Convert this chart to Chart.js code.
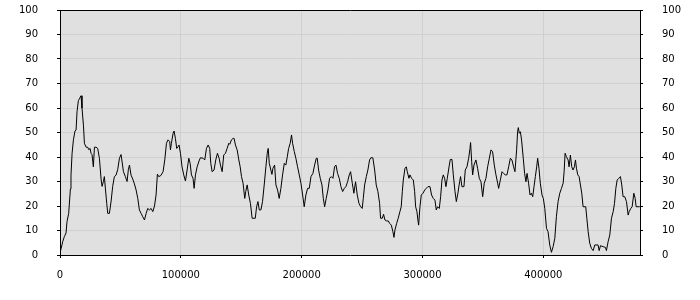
<!DOCTYPE html>
<html>
<head>
<meta charset="utf-8">
<script src="https://cdn.jsdelivr.net/npm/chart.js"></script>
<style>
  body { margin: 0; background: #fff; }
  #wrap { width: 700px; height: 300px; }
</style>
</head>
<body>
<div id="wrap"><canvas id="chart" width="700" height="300"></canvas></div>
<script>
// sample positions, in thousands
const xK = [
  0, 1, 2.2, 3.6, 5, 5.8, 7.2, 8.6, 9.1, 10, 11.1, 12.4, 13.3, 14.1, 15.2, 16.3, 17.4, 18.2, 19.4, 20.2,
  21.6, 22.9, 23.8, 24.9, 25.7, 26.5, 27.6, 28.5, 29.8, 31.2, 32.6, 34, 34.8, 35.9, 36.7, 37.6, 38.7, 39.5, 40.9, 42.3,
  43.6, 45, 46.4, 47.8, 49.2, 50.5, 51.4, 52.5, 54.1, 55.5, 56.6, 57.5, 58.8, 60.2, 61.6, 63, 64.4, 65.7, 67.1, 68.5,
  69.9, 71.3, 72.6, 74, 75.4, 76.8, 78.2, 79.5,
  80.6, 81.7, 83.4, 85.3, 86.7, 88.1, 89.4, 90.8, 91.4, 92.2, 93.6, 94.4, 95.5, 96.6, 97.7, 98.5, 99.7, 101, 102.4, 103.8,
  105.2, 106.6, 107.7, 108.8, 110.1, 111, 112.1, 113.5, 115.1, 116.2, 118.4, 119.8, 121.2, 122.6, 123.9, 124.8, 125.9, 127.5, 128.9, 130.3,
  131.7, 132.8, 134.2, 135.5, 136.9, 138.3, 139.7, 140.5, 141.9, 143.3, 144.1, 145.2, 146.6, 148, 149.1, 150.2, 151.5, 152.9, 153.7, 154.9,
  156.2, 157.6, 159,
  161.6, 162.7, 163.8, 164.9, 166.3, 167.6, 169, 170.4, 171.5, 172.3, 173.2, 174.5, 175.4, 176.2, 177.6, 178.7, 180.1, 181.4, 182.8, 184.2,
  185.6, 186.9, 188.1, 189.2, 190.5, 191.6, 192.5, 193.9, 195.2, 196.6, 198, 199.4, 200.8, 202.1, 203.5, 204.9, 206.3, 207.7, 209.3, 210.7,
  212.1, 212.9, 214, 215.4, 216.8, 217.9, 219, 220.3, 221.7, 223.1, 224.5, 225.9, 227.2, 228.4, 229.7, 231.1, 232.5, 233.9, 235.3, 236.6,
  238, 239.4, 240.5,
  241.9, 243.2, 244.6, 246, 247.4, 248.8, 250.1, 251, 252.1, 253.5, 254.8, 256.2, 257.3, 258.9, 260.4, 261.7, 263.1, 264.5, 265.3, 266.7,
  267.8, 268.9, 270.3, 271.7, 272.8, 274.2, 275.5, 276.4, 277.2, 278.6, 279.9, 281.3, 282.4, 283.3, 284.1, 285.5, 286.6, 287.4, 288.8, 289.6,
  291, 292.4, 293.5, 294.3, 295.4, 296.2, 296.8, 297.9, 299, 300.4, 301.8, 303.1, 304.5, 306.2, 307.5, 308.9, 310.3, 311.4, 312.5, 313.9,
  315, 316.1, 317.2, 318.3, 319.4, 320.5,
  322.2, 323, 324.4, 325.5, 326.9, 328, 329.3, 330.7, 331.5, 332.6, 334.3, 335.4, 336.8, 338.2, 339.3, 339.8, 340.7, 341.5, 342.6, 344.2,
  345.6, 347, 348.4, 349.8, 351.1, 352.5, 353.9, 355.3, 356.7, 358, 359.4, 360.8, 362.2, 363, 364.4, 365.8, 367.1, 368.5, 369.9, 371.3,
  372.7, 374, 375.4, 376.5, 377.9, 378.7, 379.3, 380.1, 381, 382, 383.4, 384.5, 385.6, 386.5, 387.8, 389, 390.1, 391.2, 392.3, 393.4,
  394.5, 395.3, 396.4, 397.5, 398.9, 400,
  401.2, 402.6, 403.9, 405.3, 406.7, 408.1, 409.5, 410.8, 412.2, 413.6, 415, 416.4, 417.2, 418, 419.1, 420.5, 421.3, 422.4, 423.5, 424.6,
  425.7, 426.6, 427.4, 428.5, 429.6, 430.7, 431.8, 432.9, 435.1, 436, 437.1, 438.4, 439.8, 441.2, 442.6, 445.3, 446.2, 447.3, 449.5, 451.4,
  452.2, 453.6, 455, 456.4, 457.8, 458.9, 460, 461.1, 462.5, 463.8, 464.9, 466, 467.4, 468.8, 470.2, 471, 472.4, 473.5, 474.9, 476,
  476.8, 479.8
];

const values = [
  1, 2.7, 5.4, 7.5, 9, 13.6, 17, 27, 32.6, 41.5, 47, 50.6, 51, 58.5, 63, 64, 65, 60, 53, 45.6,
  44, 44, 43, 43.5, 41.5, 41, 36, 44, 44, 43.5, 39.5, 31, 28, 30, 32, 27, 21, 17, 17, 22,
  28, 32, 32.6, 35, 39.5, 41, 38, 34, 32, 30, 35, 36.7, 32.6, 31, 29, 26.5, 23, 18.4, 17, 15.6,
  14.3, 17, 19, 18.4, 19, 17.7, 20, 24.5,
  33, 32, 32.4, 34, 38.8, 45.6, 47, 46.3, 42.9, 45.6, 49.7, 50.6, 47.6, 43.5, 44.2, 44.9, 41.5, 36, 32.7, 30.2,
  34.7, 39.5, 37.4, 32.7, 31.3, 27.2, 32.7, 36, 38.4, 39.7, 39.5, 38.8, 43.5, 44.9, 43.5, 37.4, 34, 34.7, 38.8, 41.5,
  39.5, 36.7, 34, 40.8, 41.5, 43.5, 45.6, 45.2, 47, 47.6, 47.6, 44.9, 42.9, 38.8, 36, 32, 29.3, 23.1, 25.9, 28.6,
  24.5, 21.1, 15,
  15, 19.7, 21.8, 18.4, 18.4, 21.8, 28.6, 36, 41.5, 43.5, 37.4, 34.7, 32.9, 35.4, 36.7, 28.6, 26.5, 23.1, 27.2, 32.7,
  37.4, 36.7, 40.1, 43.5, 45.6, 49, 45.6, 42.2, 39.5, 36, 32.7, 29.3, 24.5, 19.7, 24.5, 27.2, 27.2, 32, 33.3, 36.7,
  39.5, 39.5, 34.7, 31.3, 28.6, 23.1, 19.7, 23.1, 26.5, 31.3, 32, 31.3, 36, 36.7, 33.3, 31.3, 27.9, 25.9, 27.2, 27.9,
  29.9, 32.7, 34,
  29.3, 25.2, 29.9, 24.5, 21.1, 19.7, 19, 23.1, 28.6, 32, 34.7, 38.8, 39.7, 39.7, 34.7, 28.6, 25.9, 21.1, 15, 15,
  16.6, 14.3, 13.9, 13.9, 12.9, 12.2, 9.5, 7.2, 10.2, 12.9, 15, 17.7, 19.7, 25.9, 30.6, 35.4, 36, 34, 31.3, 32.7,
  31.3, 30.6, 25.9, 19.7, 17.7, 14.3, 12.2, 19.7, 24.5, 25.2, 26.5, 27.2, 27.9, 27.9, 24.5, 23.1, 22.4, 18.4, 19.7, 19,
  23.8, 30.6, 32.7, 31.3, 27.9, 31.3,
  36.7, 39, 39, 32.7, 25.9, 21.8, 25.2, 29.9, 32, 27.9, 27.9, 34.7, 36, 39.5, 43.5, 45.9, 38.1, 32.7, 36.7, 38.8,
  35.4, 31.3, 29.9, 23.8, 29.3, 31.3, 36, 39.5, 42.9, 42.2, 36.7, 32.7, 29.3, 27.2, 30.6, 34, 33.3, 32.7, 32.7, 36,
  39.5, 38.8, 36, 34, 42.9, 50.3, 52, 49.7, 50.3, 46.9, 39.5, 33.3, 29.9, 33.3, 29.3, 24.5, 25.2, 23.8, 27.9, 32,
  36, 39.5, 35.4, 29.3, 24.5, 23.1,
  19, 10.9, 9.5, 4.1, 1.1, 3.4, 6.8, 15.6, 21.8, 25.2, 27.2, 29.3, 34, 41.5, 40.1, 38.8, 36, 40.8, 36, 34.7,
  36, 38.8, 35.4, 32.7, 32, 28.6, 25.2, 19.7, 19.7, 15, 9.5, 4.8, 2.7, 1.8, 4.1, 4.1, 1.8, 3.8, 3.4, 3.1,
  1.8, 5.4, 8.2, 15, 17.7, 21.1, 27.2, 30.6, 31.3, 32, 28.6, 23.8, 23.8, 21.8, 16.3, 17.7, 19, 19.7, 25.2, 23.1,
  19.7, 19.7
];

// axis ranges and tick labels
const xMax = 480000;
const xTicks = [0, 100000, 200000, 300000, 400000];
const yMax = 100;
const yStep = 10;

const tickFont = { family: "DejaVu Sans", size: 10 };

const points = xK.map((x, i) => ({ x: x * 1000, y: values[i] }));

// grey plot background and the top edge of the frame
const plotFrame = {
    id: "plotFrame",
    beforeDraw(chart) {
        const { ctx, chartArea: a } = chart;
        ctx.save();
        ctx.fillStyle = "#e0e0e0";
        ctx.fillRect(a.left, a.top, a.right - a.left, a.bottom - a.top);
        ctx.restore();
    },
    afterDraw(chart) {
        const { ctx, chartArea: a } = chart;
        const y = Math.round(a.top - 0.5) + 0.5;
        ctx.save();
        ctx.strokeStyle = "#000";
        ctx.lineWidth = 1;
        ctx.beginPath();
        ctx.moveTo(a.left, y);
        ctx.lineTo(a.right + 1, y);
        ctx.stroke();
        ctx.restore();
    }
};

// fixed side widths; drop the extra room chart.js keeps for end labels
function fixWidth(s) {
    s.width = 60;
    s.paddingTop = 0;
    s.paddingBottom = 0;
}

const ctx = document.getElementById("chart").getContext("2d");
new Chart(ctx, {
    type: "line",
    data: {
        datasets: [{
            data: points,
            borderColor: "#000",
            borderWidth: 1,
            pointRadius: 0,
            tension: 0,
            fill: false,
            yAxisID: "y"
        }]
    },
    options: {
        responsive: false,
        animation: false,
        devicePixelRatio: 1,
        layout: { padding: { top: 10 } },
        plugins: {
            legend: { display: false },
            tooltip: { enabled: false }
        },
        scales: {
            x: {
                type: "linear",
                min: 0,
                max: xMax,
                afterBuildTicks: (s) => { s.ticks = xTicks.map((v) => ({ value: v })); },
                ticks: {
                    maxRotation: 0,
                    autoSkip: false,
                    padding: 11,
                    color: "#000",
                    font: tickFont,
                    callback: (v) => String(v)
                },
                grid: { color: "#d0d0d0", tickColor: "#000", tickLength: 3 },
                border: { color: "#000" },
                afterFit: (s) => { s.height = 45; s.paddingLeft = 0; s.paddingRight = 0; }
            },
            y: {
                position: "left",
                min: 0,
                max: yMax,
                ticks: { stepSize: yStep, padding: 19, color: "#000", font: tickFont },
                grid: { color: "#d0d0d0", tickColor: "#000", tickLength: 3 },
                border: { color: "#000" },
                afterFit: fixWidth
            },
            y2: {
                position: "right",
                min: 0,
                max: yMax,
                ticks: { stepSize: yStep, padding: 19, color: "#000", font: tickFont },
                grid: { drawOnChartArea: false, tickColor: "#000", tickLength: 3 },
                border: { color: "#000" },
                afterFit: fixWidth
            }
        }
    },
    plugins: [plotFrame]
});
</script>
</body>
</html>
